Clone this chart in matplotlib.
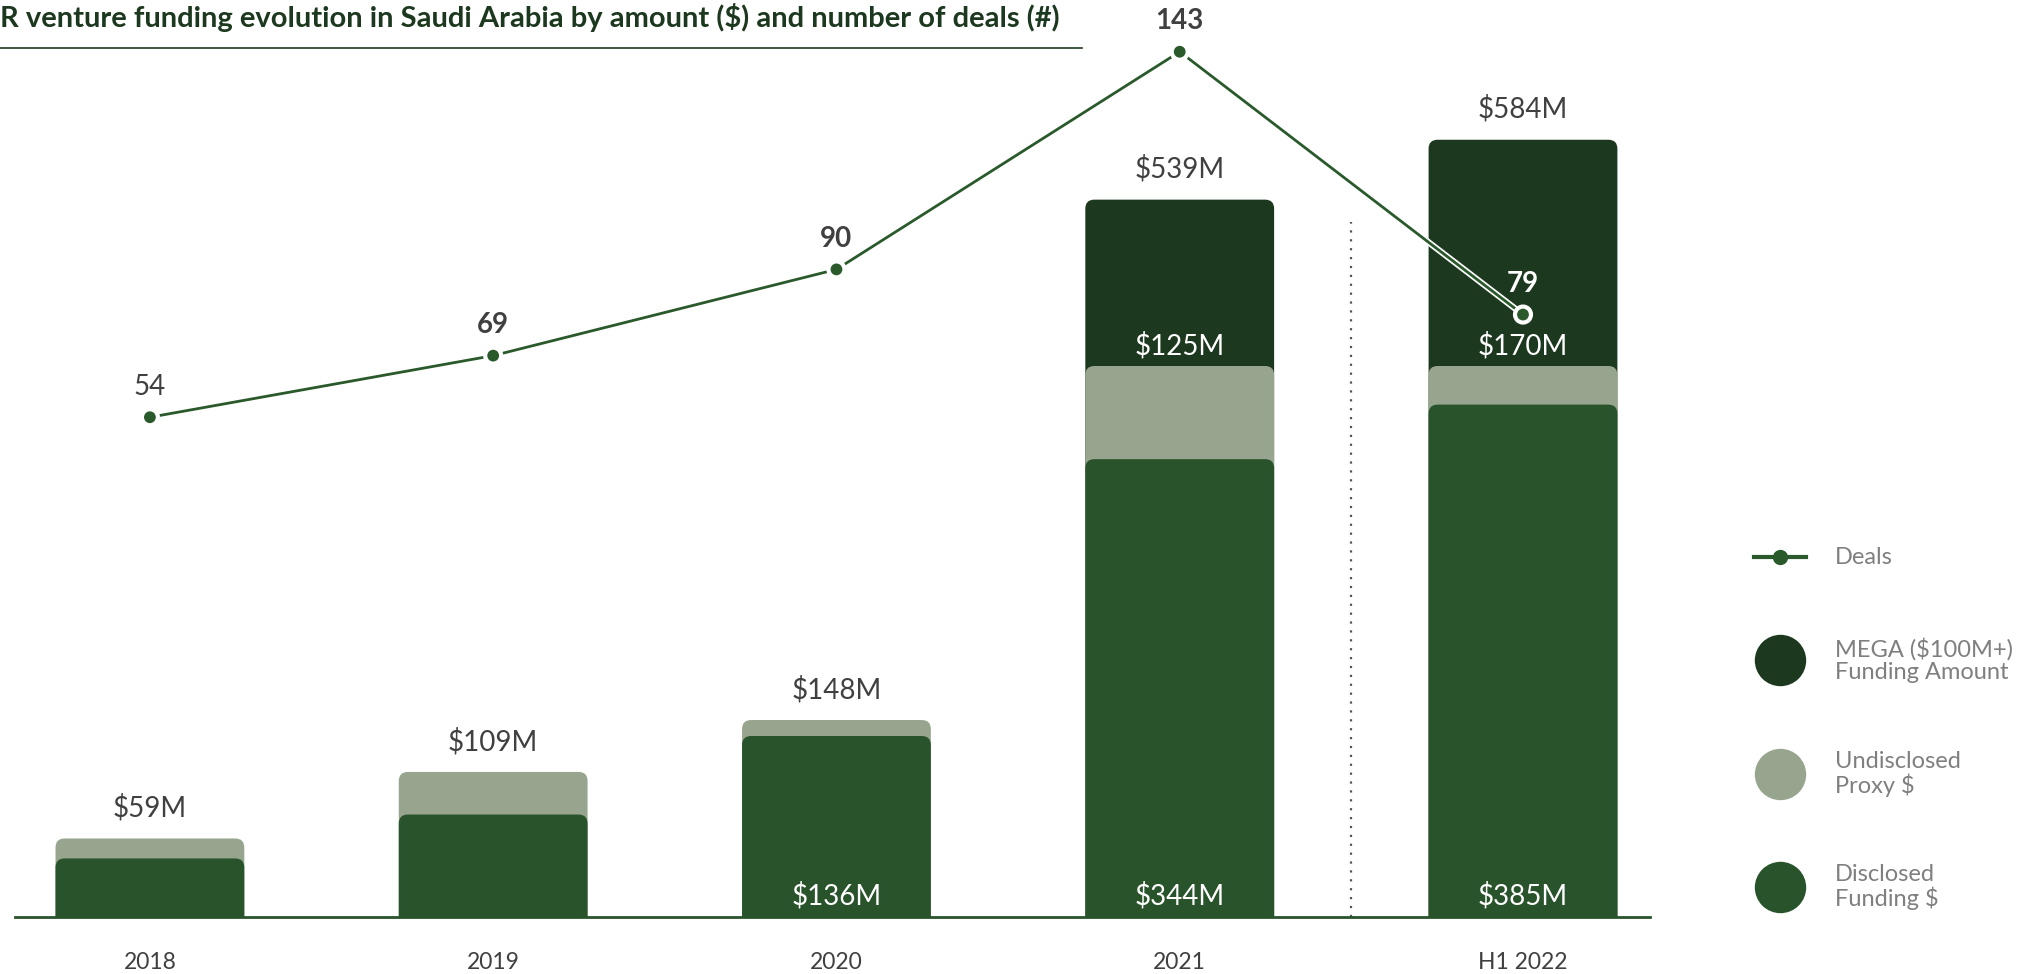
import matplotlib
matplotlib.use("Agg")
import matplotlib.pyplot as plt
from matplotlib.patches import FancyBboxPatch
from matplotlib.lines import Line2D
import matplotlib.patheffects as pe

plt.rcParams["font.family"] = ["Lato", "DejaVu Sans"]

years = ["2018", "2019", "2020", "2021", "H1 2022"]
disclosed = [44, 77, 136, 344, 385]
undisclosed = [15, 32, 12, 70, 29]
mega = [0, 0, 0, 125, 170]
totals = [59, 109, 148, 539, 584]
deals = [54, 69, 90, 143, 79]

C_MEGA = "#1c381e"
C_UND = "#98a58e"
C_DISC = "#29532b"
C_LINE = "#2a5a2c"
C_TEXT = "#404040"
C_LEG = "#7f7f7f"

W, H = 2025, 974
fig = plt.figure(figsize=(W / 100, H / 100), dpi=100)
ax = fig.add_axes([15 / W, 57 / H, 1635 / W, 917 / H])
ax.set_xlim(-0.393, 4.37)
ax.set_ylim(0, 689)
ax.axis("off")

# data units per pixel, so the rounded corners stay round
px_x = 1635 / (4.37 + 0.393)
px_y = 917 / 689
aspect = px_x / px_y
r = 9 / px_x
bw = 0.55


def rounded_bar(x, top, color, z):
    pad = 20
    p = FancyBboxPatch((x - bw / 2, -pad), bw, top + pad,
                       boxstyle=f"round,pad=0,rounding_size={r}",
                       mutation_aspect=aspect, fc=color, ec="none",
                       zorder=z)
    ax.add_patch(p)


for i, yr in enumerate(years):
    cum_und = disclosed[i] + undisclosed[i]
    if mega[i] > 0:
        rounded_bar(i, totals[i], C_MEGA, 2)
    rounded_bar(i, cum_und, C_UND, 3)
    rounded_bar(i, disclosed[i], C_DISC, 4)

    ax.text(i, totals[i] + 23, f"${totals[i]}M", ha="center", va="center",
            fontsize=20, color=C_TEXT)
    if disclosed[i] > 100:
        ax.text(i, 16, f"${disclosed[i]}M", ha="center", va="center",
                fontsize=20, color="white", zorder=6)
    if mega[i] > 0:
        ax.text(i, cum_und + 15, f"${mega[i]}M", ha="center", va="center",
                fontsize=20, color="white", zorder=6)
    ax.text(i, -34, yr, ha="center", va="center", fontsize=16.5,
            color=C_TEXT, clip_on=False)

ax.plot([-0.393, 4.37], [0, 0], color=C_DISC, lw=2, zorder=7,
        clip_on=False)
ax.plot([3.5, 3.5], [0, 522], color="#555555", lw=1.6,
        linestyle=(0, (1, 3)), zorder=1)

# deals line on its own scale
ax2 = fig.add_axes(ax.get_position(), zorder=5)
ax2.set_xlim(ax.get_xlim())
ax2.set_ylim(-67.7, 155.6)
ax2.axis("off")
xs = list(range(len(deals)))
ax2.plot(xs, deals, color=C_LINE, lw=2, marker="o", markersize=10,
         markerfacecolor=C_LINE, markeredgecolor="white",
         markeredgewidth=1.5,
         path_effects=[pe.Stroke(linewidth=4.5, foreground="white"),
                       pe.Normal()])
lab_col = [C_TEXT, C_TEXT, C_TEXT, C_TEXT, "white"]
lab_wt = ["normal", "bold", "bold", "bold", "bold"]
for i, d in enumerate(deals):
    ax2.annotate(str(d), (i, d), xytext=(0, 22), textcoords="offset points",
                 ha="center", va="center", fontsize=20, color=lab_col[i],
                 fontweight=lab_wt[i])

# title
fig.text(0, 1 - 17 / H, "R venture funding evolution in Saudi Arabia by "
         "amount ($) and number of deals (#)", ha="left", va="center",
         fontsize=21, fontweight="bold", color=C_MEGA)
fig.add_artist(Line2D([0, 1082 / W], [1 - 48 / H, 1 - 48 / H],
                      color=C_MEGA, lw=1.2, transform=fig.transFigure))

# legend
lx, tx = 1780 / W, 1835 / W
fig.add_artist(Line2D([1754 / W, 1806 / W], [1 - 557 / H] * 2, color=C_LINE,
                      lw=3, transform=fig.transFigure))
fig.add_artist(Line2D([lx], [1 - 557 / H], marker="o", markersize=10,
                      color=C_LINE, transform=fig.transFigure))
fig.text(tx, 1 - 557 / H, "Deals", ha="left", va="center", fontsize=17,
         color=C_LEG)
leg_items = [("MEGA ($100M+)\nFunding Amount", C_MEGA, 660),
             ("Undisclosed\nProxy $", C_UND, 774),
             ("Disclosed\nFunding $", C_DISC, 887)]
for txt, col, yy in leg_items:
    fig.add_artist(Line2D([lx], [1 - yy / H], marker="o", markersize=37,
                          color=col, markeredgewidth=0,
                          transform=fig.transFigure))
    fig.text(tx, 1 - yy / H, txt, ha="left", va="center", fontsize=17,
             color=C_LEG, linespacing=1.1)

fig.savefig("out.png", dpi=100, facecolor="white")
